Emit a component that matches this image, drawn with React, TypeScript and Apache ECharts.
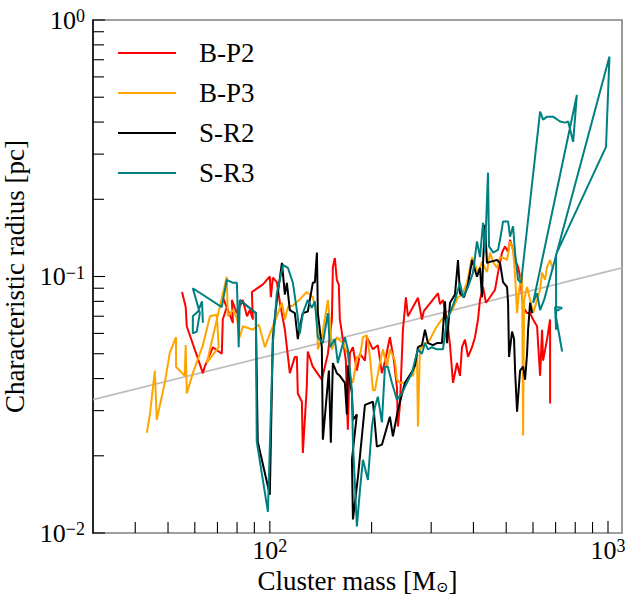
import React, { useEffect, useRef } from "react";
import * as echarts from "echarts";

// ---- axis limits and ticks ----
const X_MIN = 30;
const X_MAX = 1100;
const Y_MIN = 0.01;
const Y_MAX = 1;
const xMajorTicks = [100, 1000];
const xMinorTicks = [40, 50, 60, 70, 80, 90, 200, 300, 400, 500, 600, 700, 800, 900];
const yMajorTicks = [0.01, 0.1, 1];
const yMinorTicks = [0.02, 0.03, 0.04, 0.05, 0.06, 0.07, 0.08, 0.09, 0.2, 0.3, 0.4, 0.5, 0.6, 0.7, 0.8, 0.9];

// ---- reference relation (grey line) ----
const fitLine: [number, number][] = [
  [30, 0.0331],
  [1100, 0.108],
];

// ---- series: [cluster mass (Msun), characteristic radius (pc)] ----
const bp2: [number, number][] = [
  [55, 0.087], [56.4, 0.076], [56.8, 0.064], [63.4, 0.042], [64.2, 0.0445], [67.9, 0.053], [72.1, 0.05], [72.6, 0.068],
  [74.6, 0.076], [72.6, 0.083], [77.8, 0.066], [77.2, 0.081], [79.9, 0.072], [83.2, 0.081], [85.6, 0.07], [87.3, 0.074],
  [89.1, 0.068], [88.5, 0.087], [95.3, 0.093], [100, 0.1], [100.7, 0.083], [102.1, 0.099], [104.9, 0.095], [107.1, 0.079],
  [110.8, 0.062], [114.6, 0.042], [118.6, 0.0486], [120.2, 0.0486], [121.0, 0.035], [124.4, 0.0325], [125.2, 0.0205],
  [128.6, 0.037], [129.5, 0.051], [134.0, 0.0445], [142.5, 0.0396], [148.5, 0.05], [152.6, 0.068], [153.6, 0.109],
  [155.7, 0.118], [157.8, 0.097], [159.9, 0.093], [161.1, 0.068], [164.4, 0.057], [167.8, 0.047], [170.1, 0.0253],
  [172.5, 0.0504], [176.1, 0.053], [180.9, 0.043], [184.7, 0.05], [191.1, 0.047], [193.7, 0.058], [201.8, 0.052],
  [208.7, 0.054], [214.5, 0.042], [219.0, 0.0466], [226.5, 0.058], [232.8, 0.047], [237.6, 0.037], [239.2, 0.026],
  [242.5, 0.0316], [247.5, 0.062], [252.6, 0.083], [256.1, 0.07], [265.0, 0.076], [274.2, 0.0826], [281.7, 0.068],
  [285.6, 0.0735], [314.2, 0.086], [318.5, 0.078], [325.1, 0.081], [334.1, 0.068], [341.0, 0.054], [348.1, 0.0385],
  [357.6, 0.046], [365.0, 0.041], [370.0, 0.053], [377.7, 0.0567], [385.5, 0.0486], [396.2, 0.053], [404.3, 0.058],
  [412.7, 0.068], [418.3, 0.081], [427.0, 0.091], [435.8, 0.079], [447.8, 0.083], [463.4, 0.0888], [473.0, 0.1035],
  [486.0, 0.124], [496.1, 0.131], [506.4, 0.125], [513.3, 0.139], [523.9, 0.127], [531.1, 0.116], [542.1, 0.109],
  [549.5, 0.0998], [560.9, 0.076], [576.3, 0.072], [588.3, 0.072], [600.5, 0.068], [616.9, 0.064], [629.8, 0.041],
  [638.4, 0.062], [642.8, 0.047], [660.5, 0.057], [674.2, 0.068], [674.2, 0.032],
];

const bp3: [number, number][] = [
  [43.3, 0.0246], [44.2, 0.029], [45.7, 0.043], [46.3, 0.0276], [48.9, 0.0385], [50.6, 0.0504], [52.8, 0.058],
  [52.8, 0.0445], [56.0, 0.041], [56.4, 0.054], [56.8, 0.035], [59.2, 0.042], [63.4, 0.054], [66.5, 0.07],
  [69.7, 0.071], [70.6, 0.053], [65.1, 0.046], [74.6, 0.0997], [75.1, 0.07], [77.8, 0.074], [79.9, 0.069],
  [81.5, 0.058], [83.2, 0.064], [89.1, 0.062], [92.8, 0.065], [96.7, 0.053], [102.1, 0.064], [105.7, 0.072],
  [108.6, 0.079], [110.8, 0.068], [113.1, 0.076], [117.0, 0.077], [121.0, 0.08], [128.6, 0.087], [134.0, 0.083],
  [137.8, 0.072], [138.7, 0.052], [142.5, 0.058], [148.5, 0.081], [150.5, 0.068], [152.6, 0.052], [157.8, 0.058],
  [164.4, 0.055], [170.1, 0.05], [172.5, 0.041], [176.1, 0.0385], [180.9, 0.0486], [184.7, 0.0486], [188.5, 0.058],
  [193.7, 0.059], [197.7, 0.0486], [201.8, 0.036], [204.5, 0.036], [211.6, 0.046], [216.0, 0.052], [222.0, 0.0445],
  [226.5, 0.052], [234.4, 0.047], [237.6, 0.0396], [242.5, 0.0385], [250.9, 0.0385], [259.6, 0.041], [265.0, 0.041],
  [272.3, 0.05], [274.2, 0.026], [277.9, 0.052], [287.6, 0.055], [293.5, 0.055], [307.8, 0.062], [312.0, 0.064],
  [322.9, 0.068], [329.6, 0.07], [336.4, 0.07], [345.7, 0.074], [360.1, 0.083], [370.0, 0.085], [382.9, 0.0945],
  [396.2, 0.119], [404.3, 0.111], [412.7, 0.1035], [424.0, 0.114], [438.7, 0.104], [447.8, 0.124], [457.1, 0.114],
  [469.7, 0.108], [479.4, 0.119], [492.7, 0.118], [502.9, 0.116], [513.3, 0.137], [523.9, 0.127], [531.1, 0.1015],
  [538.4, 0.072], [545.8, 0.0888], [557.0, 0.1035], [560.9, 0.024], [564.7, 0.081], [576.3, 0.091], [588.3, 0.081],
  [600.5, 0.072], [616.9, 0.081], [629.8, 0.0888], [638.4, 0.1035], [651.6, 0.097], [660.5, 0.109], [674.2, 0.116],
  [688.1, 0.106],
];

const sr2: [number, number][] = [
  [81.5, 0.081], [90.9, 0.072], [92.1, 0.0227], [100, 0.0141], [102.1, 0.058], [104.9, 0.081], [108.6, 0.113],
  [110.8, 0.085], [112.3, 0.0945], [114.6, 0.074], [118.6, 0.072], [121.0, 0.057], [122.7, 0.064], [125.2, 0.072],
  [129.5, 0.073], [134.0, 0.0945], [135.9, 0.095], [137.8, 0.124], [138.7, 0.072], [142.5, 0.053], [143.5, 0.0231],
  [147.5, 0.035], [149.5, 0.043], [151.5, 0.0225], [153.6, 0.046], [157.8, 0.042], [161.1, 0.041], [166.7, 0.0385],
  [169.0, 0.029], [170.1, 0.045], [174.9, 0.035], [176.1, 0.0276], [180.9, 0.029], [174.9, 0.0193], [176.1, 0.0113],
  [182.2, 0.0165], [191.1, 0.0316], [201.8, 0.0325], [207.3, 0.0217], [214.5, 0.0221], [226.5, 0.0284], [231.2, 0.0238],
  [239.2, 0.0302], [250.9, 0.0385], [263.2, 0.0425], [268.6, 0.045], [274.2, 0.053], [281.7, 0.054], [287.6, 0.062],
  [293.5, 0.055], [303.6, 0.054], [312.0, 0.055], [322.9, 0.055], [329.6, 0.08], [334.1, 0.055], [341.0, 0.079],
  [352.8, 0.085], [360.1, 0.116], [365.0, 0.086], [375.1, 0.083], [385.5, 0.093], [396.2, 0.116], [404.3, 0.106],
  [409.8, 0.0998], [418.3, 0.108], [424.0, 0.083], [427.0, 0.113], [432.8, 0.159], [438.7, 0.113], [447.8, 0.114],
  [469.7, 0.116], [479.4, 0.113], [489.4, 0.095], [502.9, 0.091], [506.4, 0.079], [509.8, 0.0486], [520.3, 0.061],
  [527.5, 0.057], [531.1, 0.043], [538.4, 0.0297], [549.5, 0.043], [560.9, 0.0445], [568.5, 0.0396], [576.3, 0.05],
  [580.4, 0.062], [588.3, 0.079], [596.4, 0.072],
];

const sr3: [number, number][] = [
  [63.4, 0.066], [63.0, 0.08], [61.3, 0.073], [59.2, 0.07], [59.2, 0.06], [60.8, 0.061], [62.1, 0.072], [59.2, 0.09],
  [72.1, 0.076], [74.6, 0.097], [77.8, 0.0945], [79.9, 0.0945], [80.9, 0.053], [81.5, 0.081], [90.9, 0.072],
  [91.5, 0.0227], [98.7, 0.0121], [102.1, 0.055], [104.9, 0.086], [108.6, 0.106], [109.3, 0.111], [113.1, 0.108],
  [117.0, 0.0945], [120.2, 0.074], [122.7, 0.06], [125.2, 0.072], [129.5, 0.081], [133.1, 0.0755], [135.9, 0.08],
  [138.7, 0.058], [143.5, 0.055], [148.5, 0.072], [150.5, 0.053], [155.7, 0.057], [158.9, 0.046], [163.3, 0.053],
  [166.7, 0.058], [170.1, 0.052], [172.5, 0.043], [174.9, 0.036], [176.1, 0.0225], [180.9, 0.0106], [184.7, 0.0147],
  [188.5, 0.0193], [195.0, 0.0161], [200.4, 0.026], [204.5, 0.031], [208.7, 0.034], [214.5, 0.027], [219.0, 0.0445],
  [223.4, 0.0445], [229.6, 0.0385], [237.6, 0.0331], [245.8, 0.035], [254.3, 0.0385], [263.2, 0.042], [268.6, 0.047],
  [274.2, 0.052], [281.7, 0.05], [287.6, 0.055], [293.5, 0.052], [301.6, 0.053], [312.0, 0.052], [325.1, 0.052],
  [334.1, 0.068], [341.0, 0.072], [352.8, 0.081], [365.0, 0.0945], [372.6, 0.083], [385.5, 0.091], [398.8, 0.1035],
  [409.8, 0.137], [418.3, 0.119], [427.0, 0.162], [432.8, 0.124], [441.7, 0.254], [444.8, 0.131], [457.1, 0.124],
  [473.0, 0.127], [479.4, 0.139], [489.4, 0.164], [506.4, 0.164], [513.3, 0.143], [523.9, 0.157], [531.1, 0.124],
  [542.1, 0.097], [553.2, 0.0945], [629.8, 0.439], [642.8, 0.409], [660.5, 0.42], [688.1, 0.42], [721.8, 0.402],
  [746.8, 0.398], [762.3, 0.402], [772.7, 0.374], [788.7, 0.335], [809.0, 0.51], [600.5, 0.079], [616.9, 0.086],
  [629.8, 0.074], [647.2, 0.081], [1010, 0.72], [986.5, 0.32], [702.2, 0.122], [702.2, 0.062], [697.5, 0.076],
  [731.7, 0.0755], [697.5, 0.0729], [731.7, 0.051],
];

const seriesNames = ["B-P2", "B-P3", "S-R2", "S-R3"];
const seriesColors = ["#ff0000", "#ffa500", "#000000", "#008080"];
const seriesData = [bp2, bp3, sr2, sr3];

const FONT = "Liberation Serif, DejaVu Serif, serif";

const powLabel = (v: number) => {
  const l = Math.log10(v);
  const e = Math.round(l);
  if (Math.abs(l - e) > 1e-6) return "";
  return `{b|10}{s|${e < 0 ? "\u2212" + -e : e}}`;
};

const labelRich = {
  b: { fontSize: 26, fontFamily: FONT, color: "#000", lineHeight: 26 },
  s: { fontSize: 18, fontFamily: FONT, color: "#000", lineHeight: 16, verticalAlign: "top" },
};

function tickSeries(values: number[], axis: "x" | "y", len: number) {
  return {
    type: "custom",
    silent: true,
    clip: false,
    z: 6,
    coordinateSystem: "cartesian2d",
    data: values.map((v) => (axis === "x" ? [v, Y_MIN] : [X_MIN, v])),
    encode: { x: 0, y: 1 },
    renderItem: (_params: any, api: any) => {
      const p = api.coord([api.value(0), api.value(1)]);
      const shape =
        axis === "x"
          ? { x1: p[0], y1: p[1], x2: p[0], y2: p[1] - len }
          : { x1: p[0], y1: p[1], x2: p[0] + len, y2: p[1] };
      return { type: "line", shape, style: { stroke: "#000", lineWidth: 1.1 } };
    },
  };
}

export default function App() {
  const ref = useRef<HTMLDivElement>(null);
  useEffect(() => {
    if (!ref.current) return;
    const chart = echarts.init(ref.current, undefined, { renderer: "svg" });
    const option: any = {
      animation: false,
      backgroundColor: "#ffffff",
      textStyle: { fontFamily: FONT },
      grid: {
        left: 93,
        right: 5,
        top: 20,
        bottom: 64,
        show: true,
        borderColor: "#808080",
        borderWidth: 1.6,
        containLabel: false,
        outerBoundsMode: "none",
      },
      legend: {
        data: seriesNames,
        orient: "vertical",
        left: 118,
        top: 38,
        padding: 0,
        icon: "rect",
        itemWidth: 58,
        itemHeight: 2,
        itemGap: 10,
        textStyle: {
          fontFamily: FONT,
          fontSize: 27,
          color: "#000",
          lineHeight: 30,
          padding: [0, 0, 0, 18],
        },
      },
      xAxis: {
        type: "log",
        logBase: 10,
        min: X_MIN,
        max: X_MAX,
        name: "Cluster mass [M{sub|\u2299}]",
        nameLocation: "middle",
        nameGap: 32,
        nameTextStyle: {
          fontFamily: FONT,
          fontSize: 27,
          color: "#000",
          rich: {
            sub: { fontFamily: FONT, fontSize: 15, verticalAlign: "bottom", lineHeight: 22, color: "#000" },
          },
        },
        axisLine: { show: false },
        axisTick: { show: false },
        splitLine: { show: false },
        axisLabel: {
          margin: 4,
          showMinLabel: false,
          showMaxLabel: false,
          formatter: powLabel,
          rich: labelRich,
        },
      },
      yAxis: {
        type: "log",
        logBase: 10,
        min: Y_MIN,
        max: Y_MAX,
        name: "Characteristic radius [pc]",
        nameLocation: "middle",
        nameGap: 52,
        nameTextStyle: { fontFamily: FONT, fontSize: 27, color: "#000" },
        axisLine: { show: true, lineStyle: { color: "#000", width: 1.5 } },
        axisTick: { show: false },
        splitLine: { show: false },
        axisLabel: {
          margin: 8,
          formatter: powLabel,
          rich: labelRich,
        },
      },
      series: [
        {
          type: "line",
          name: "fit",
          data: fitLine,
          showSymbol: false,
          symbol: "none",
          silent: true,
          z: 1,
          lineStyle: { color: "#bdbdbd", width: 1.8 },
        },
        ...seriesData.map((d, i) => ({
          type: "line",
          name: seriesNames[i],
          data: d,
          showSymbol: false,
          symbol: "none",
          z: 2 + i,
          color: seriesColors[i],
          itemStyle: { color: seriesColors[i] },
          lineStyle: { color: seriesColors[i], width: 2 },
        })),
        tickSeries(xMajorTicks, "x", 12),
        tickSeries(xMinorTicks, "x", 11),
        tickSeries(yMajorTicks, "y", 12),
        tickSeries(yMinorTicks, "y", 11),
      ],
    };
    chart.setOption(option);
    return () => chart.dispose();
  }, []);
  return (
    <div
      ref={ref}
      style={{ position: "fixed", left: 0, top: 0, width: 627, height: 597, background: "#fff" }}
    />
  );
}
